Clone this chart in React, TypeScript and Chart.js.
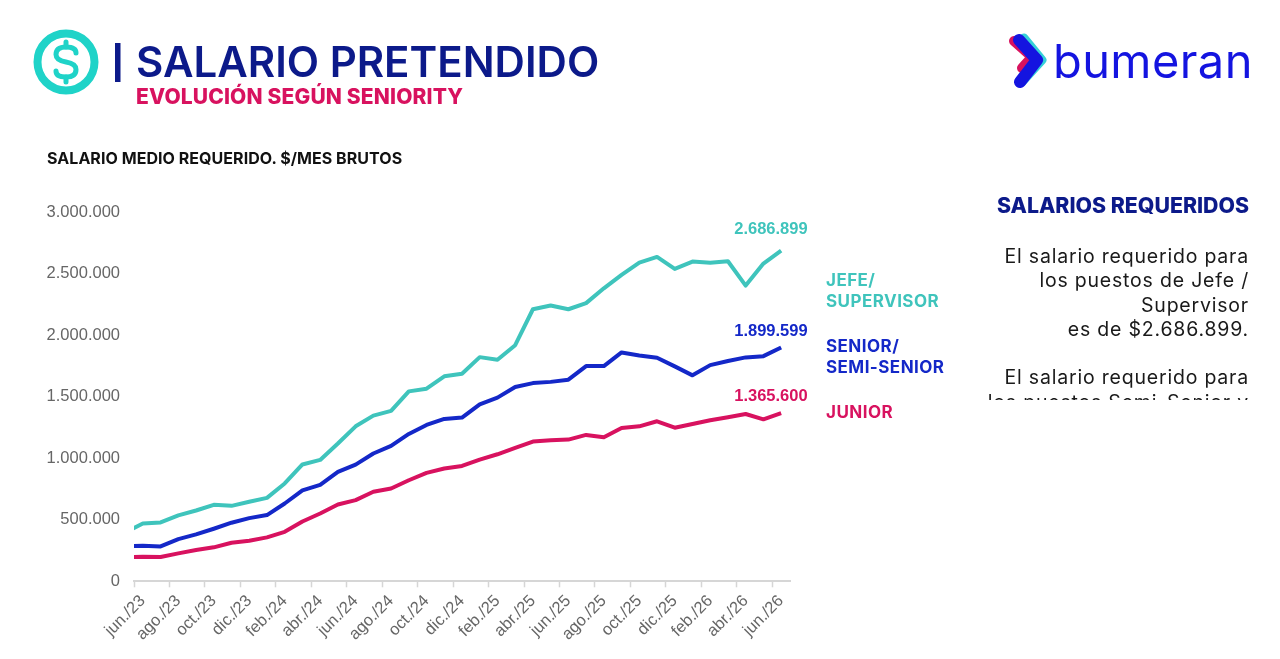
import { useEffect, useRef } from 'react'
import { Chart, registerables } from 'chart.js'

Chart.register(...registerables)

const months = [
  'may./23', 'jun./23', 'jul./23', 'ago./23', 'sep./23', 'oct./23', 'nov./23', 'dic./23',
  'ene./24', 'feb./24', 'mar./24', 'abr./24', 'may./24', 'jun./24', 'jul./24', 'ago./24',
  'sep./24', 'oct./24', 'nov./24', 'dic./24', 'ene./25', 'feb./25', 'mar./25', 'abr./25',
  'may./25', 'jun./25', 'jul./25', 'ago./25', 'sep./25', 'oct./25', 'nov./25', 'dic./25',
  'ene./26', 'feb./26', 'mar./26', 'abr./26', 'may./26', 'jun./26'
]

const jefe = [
  395000, 470000, 478000, 535000, 575000, 621000, 613000, 646000, 678000, 795000,
  949000, 986000, 1119000, 1259000, 1346000, 1384000, 1543000, 1565000, 1665000, 1686000,
  1821000, 1800000, 1918000, 2210000, 2240000, 2210000, 2260000, 2380000, 2489000, 2589000,
  2635000, 2538000, 2597000, 2587000, 2600000, 2402000, 2581000, 2686899
]

const senior = [
  285000, 289000, 283000, 343000, 381000, 427000, 476000, 513000, 538000, 632000,
  738000, 784000, 889000, 948000, 1038000, 1100000, 1197000, 1270000, 1319000, 1330000,
  1438000, 1492000, 1578000, 1610000, 1620000, 1638000, 1748000, 1748000, 1859000, 1835000,
  1816000, 1746000, 1673000, 1756000, 1790000, 1819000, 1829000, 1899599
]

const junior = [
  195000, 200000, 197000, 227000, 254000, 276000, 313000, 329000, 357000, 402000,
  486000, 551000, 624000, 659000, 727000, 754000, 821000, 881000, 916000, 937000,
  989000, 1032000, 1083000, 1135000, 1146000, 1151000, 1189000, 1170000, 1245000, 1259000,
  1300000, 1248000, 1278000, 1308000, 1332000, 1359000, 1316000, 1365600
]

const TEAL = '#3fc4bc'
const BLUE = '#1428c8'
const PINK = '#d8125f'
const NAVY = '#0c1a8a'

const dots = (v: number) => String(v).replace(/\B(?=(\d{3})+$)/g, '.')

// value printed above the last point of each line
const endLabels = {
  id: 'endLabels',
  afterDatasetsDraw(chart: any) {
    const { ctx } = chart
    chart.data.datasets.forEach((ds: any, i: number) => {
      const pts = chart.getDatasetMeta(i).data
      const last = pts[pts.length - 1]
      ctx.save()
      ctx.font = 'bold 16.5px "Liberation Sans"'
      ctx.fillStyle = ds.borderColor
      ctx.textAlign = 'right'
      ctx.textBaseline = 'middle'
      ctx.fillText(dots(ds.data[ds.data.length - 1]), last.x + 26.5, last.y - ds.endGap)
      ctx.restore()
    })
  }
}

function SalaryChart() {
  const ref = useRef<HTMLCanvasElement>(null)

  useEffect(() => {
    if (!ref.current) return
    const chart = new Chart(ref.current, {
      type: 'line',
      data: {
        labels: months,
        datasets: [
          { label: 'Jefe / Supervisor', data: jefe, borderColor: TEAL, endGap: 21 },
          { label: 'Senior / Semi-Senior', data: senior, borderColor: BLUE, endGap: 16 },
          { label: 'Junior', data: junior, borderColor: PINK, endGap: 17 }
        ] as any
      },
      options: {
        animation: false,
        responsive: false,
        elements: {
          line: { borderWidth: 4, tension: 0, borderJoinStyle: 'round' },
          point: { radius: 0 }
        },
        layout: { padding: { top: 212, right: 490, left: 0, bottom: 0 } },
        plugins: { legend: { display: false }, tooltip: { enabled: false } },
        scales: {
          x: {
            type: 'category',
            min: 'jun./23',
            max: 'jun./26',
            offset: true,
            border: { color: '#d6d6d6', width: 2 },
            grid: {
              offset: true,
              drawOnChartArea: false,
              tickLength: 6,
              tickWidth: 1.5,
              tickColor: (c: any) => (c.index % 2 === 0 ? '#d6d6d6' : 'transparent')
            },
            ticks: {
              autoSkip: false,
              minRotation: 45,
              maxRotation: 45,
              padding: 4,
              color: '#666666',
              font: { family: '"Liberation Sans"', size: 16.5 },
              callback(_v: any, i: number) {
                return i % 2 === 0 ? months[i + 1] : ''
              }
            },
            afterFit(scale: any) {
              scale.height = 77.7
            }
          },
          y: {
            min: 0,
            max: 3000000,
            border: { display: false },
            grid: { display: false },
            ticks: {
              stepSize: 500000,
              padding: 6,
              color: '#666666',
              font: { family: '"Liberation Sans"', size: 16.5 },
              callback: (v: any) => dots(v)
            },
            afterFit(scale: any) {
              scale.width = 134
            }
          }
        }
      },
      plugins: [endLabels]
    })
    return () => chart.destroy()
  }, [])

  return (
    <canvas
      ref={ref}
      width={1280}
      height={659}
      style={{ position: 'absolute', left: 0, top: 0, width: 1280, height: 659 }}
    />
  )
}

const sans = 'Inter, "Noto Sans", sans-serif'

function Text({ x, y, size, weight, color, spacing, children }: any) {
  return (
    <div
      style={{
        position: 'absolute',
        left: x,
        top: y,
        fontFamily: sans,
        fontSize: size,
        fontWeight: weight,
        color,
        letterSpacing: spacing,
        lineHeight: 1,
        whiteSpace: 'nowrap'
      }}
    >
      {children}
    </div>
  )
}

function SideLabel({ y, color, lines }: { y: number; color: string; lines: string[] }) {
  return (
    <div
      style={{
        position: 'absolute',
        left: 826,
        top: y,
        fontFamily: sans,
        fontSize: 17,
        fontWeight: 700,
        letterSpacing: 0.45,
        lineHeight: '20.5px',
        color
      }}
    >
      {lines.map(l => (
        <div key={l}>{l}</div>
      ))}
    </div>
  )
}

function Logos() {
  return (
    <svg
      width={1280}
      height={120}
      style={{ position: 'absolute', left: 0, top: 0 }}
    >
      <circle cx={66} cy={62} r={28.5} fill="none" stroke="#1fd3c8" strokeWidth={8} />
      <path
        d="M76 53 C76 49 72 47 66 47 C59 47 56 50 56 54.5 C56 59 60 61 66 62 C72 63 76 65 76 69.5 C76 74 73 77 66 77 C60 77 56 75 56 71"
        fill="none"
        stroke="#1fd3c8"
        strokeWidth={5}
        strokeLinecap="round"
      />
      <path d="M66 42 V47 M66 77 V82" stroke="#1fd3c8" strokeWidth={5} strokeLinecap="round" />
      <rect x={115} y={43} width={5.5} height={39} fill={NAVY} />
      <path d="M1014 41 L1032 57 L1022 68" fill="none" stroke={PINK} strokeWidth={10} strokeLinecap="round" strokeLinejoin="round" />
      <path d="M1024 38 L1042 60 L1022 82" fill="none" stroke="#35d0d8" strokeWidth={9} strokeLinecap="round" strokeLinejoin="round" />
      <path d="M1019 40 L1037 60 L1020 82" fill="none" stroke="#1414e0" strokeWidth={12} strokeLinecap="round" strokeLinejoin="round" />
      <text x={1053} y={78} fontFamily={sans} fontSize={47} fontWeight={400} fill="#1414e0" letterSpacing={0.4}>
        bumeran
      </text>
    </svg>
  )
}

function Notes() {
  const lines = [
    'El salario requerido para',
    'los puestos de Jefe /',
    'Supervisor',
    'es de $2.686.899.',
    '\u00a0',
    'El salario requerido para',
    'los puestos Semi-Senior y'
  ]
  return (
    <div
      style={{
        position: 'absolute',
        left: 960,
        top: 244,
        width: 289,
        height: 156,
        overflow: 'hidden',
        textAlign: 'right',
        fontFamily: sans,
        fontSize: 19.5,
        letterSpacing: 0.8,
        lineHeight: '24.3px',
        color: '#1a1a1a'
      }}
    >
      {lines.map((l, i) => (
        <div key={i}>{l}</div>
      ))}
    </div>
  )
}

export default function App() {
  return (
    <div style={{ position: 'fixed', left: 0, top: 0, width: 1280, height: 659, background: '#fff', overflow: 'hidden' }}>
      <SalaryChart />
      <Logos />
      <Text x={136} y={41} size={42} weight={600} color={NAVY} spacing={0}>SALARIO PRETENDIDO</Text>
      <Text x={136} y={86} size={21} weight={800} color={PINK} spacing={0.15}>EVOLUCIÓN SEGÚN SENIORITY</Text>
      <Text x={47} y={150} size={16} weight={700} color="#111" spacing={0.05}>SALARIO MEDIO REQUERIDO. $/MES BRUTOS</Text>
      <SideLabel y={270} color={TEAL} lines={['JEFE/', 'SUPERVISOR']} />
      <SideLabel y={336} color={BLUE} lines={['SENIOR/', 'SEMI-SENIOR']} />
      <SideLabel y={402} color={PINK} lines={['JUNIOR']} />
      <div
        style={{
          position: 'absolute',
          right: 31,
          top: 195,
          fontFamily: sans,
          fontSize: 21.3,
          fontWeight: 800,
          lineHeight: 1,
          color: NAVY,
          whiteSpace: 'nowrap'
        }}
      >
        SALARIOS REQUERIDOS
      </div>
      <Notes />
    </div>
  )
}
